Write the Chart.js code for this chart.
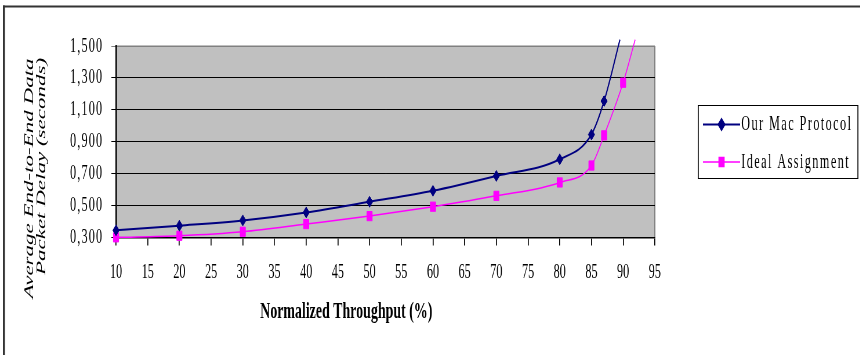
<!DOCTYPE html>
<html>
<head>
<meta charset="utf-8">
<script src="https://cdn.jsdelivr.net/npm/chart.js@4.4.0/dist/chart.umd.min.js"></script>
<style>
  html, body { margin: 0; padding: 0; background: #fff; overflow: hidden; }
  /* chart is drawn wide and squeezed horizontally, like the original */
  #wrap { width: 1483px; height: 355px; transform: scaleX(0.58); transform-origin: 0 0; }
</style>
</head>
<body>
<div id="wrap"><canvas id="chartDelay"></canvas></div>
<script>
const throughputMac = [10, 20, 30, 40, 50, 60, 70, 80, 85, 87, 89.5];
const delayMac = [0.345, 0.374, 0.407, 0.457, 0.524, 0.593, 0.686, 0.79, 0.945, 1.155, 1.54];
const throughputIdeal = [10, 20, 30, 40, 50, 60, 70, 80, 85, 87, 90, 91.9];
const delayIdeal = [0.301, 0.311, 0.336, 0.384, 0.434, 0.493, 0.561, 0.645, 0.751, 0.94, 1.27, 1.54];
const seriesNames = ['Our Mac Protocol', 'Ideal Assignment'];
const xTitle = 'Normalized Throughput (%)';
const yTitle = ['Average End-to-End Data', 'Packet Delay (seconds)'];

const SERIF = "'Liberation Serif', 'Times New Roman', serif";

function toPoints(xs, ys) {
  return xs.map((x, i) => ({ x: x, y: ys[i] }));
}
// last point of each curve only carries the line off the top, no marker
function radii(xs, r) {
  return xs.map((x, i) => (i < xs.length - 1 ? r : 0));
}

const framePlugin = {
  id: 'frame',
  beforeDraw(chart) {
    const ctx = chart.ctx;
    const a = chart.chartArea;
    ctx.save();
    ctx.fillStyle = '#C0C0C0';
    ctx.fillRect(a.left, a.top, a.right - a.left, a.bottom - a.top);
    ctx.fillStyle = '#808080';
    ctx.fillRect(a.left, a.top - 0.5, a.right - a.left, 1);
    ctx.fillRect(a.right - 1, a.top, 2, a.bottom - a.top);
    ctx.restore();

    // wider spacing on the y tick labels
    const ys = chart.scales.y;
    if (!ys._spaced) {
      const orig = ys.drawLabels;
      ys.drawLabels = function (area) {
        this.ctx.save();
        this.ctx.letterSpacing = '2px';
        orig.call(this, area);
        this.ctx.restore();
      };
      ys._spaced = true;
    }
  },
  afterDraw(chart) {
    const ctx = chart.ctx;
    ctx.save();

    // outer frame (top and left edges)
    ctx.fillStyle = '#333';
    ctx.fillRect(5, 5.5, chart.width, 2);
    ctx.fillRect(5, 5.5, 3.5, chart.height);

    // y title, two rotated lines
    ctx.fillStyle = '#000';
    ctx.font = 'italic 23px ' + SERIF;
    ctx.textAlign = 'center';
    ctx.textBaseline = 'alphabetic';
    [[57, 178.5], [78, 166.5]].forEach((p, i) => {
      ctx.save();
      ctx.translate(p[0], p[1]);
      ctx.rotate(-Math.PI / 2);
      ctx.fillText(yTitle[i], 0, 0);
      ctx.restore();
    });

    // x title
    ctx.font = 'bold 24px ' + SERIF;
    ctx.textBaseline = 'middle';
    ctx.fillText(xTitle, 597, 312);

    // legend
    const lx = 1203, ly = 105, lw = 277, lh = 73;
    ctx.fillStyle = '#fff';
    ctx.fillRect(lx, ly, lw, lh);
    ctx.fillStyle = '#000';
    ctx.fillRect(lx, ly, lw, 1);
    ctx.fillRect(lx, ly + lh, lw, 1);
    ctx.fillRect(lx, ly, 1.7, lh);
    ctx.fillRect(lx + lw - 1.7, ly, 1.7, lh);

    const rows = [124.5, 162];
    chart.data.datasets.forEach((ds, i) => {
      const y = rows[i];
      ctx.strokeStyle = ds.borderColor;
      ctx.lineWidth = ds.borderWidth;
      ctx.beginPath();
      ctx.moveTo(1212, y);
      ctx.lineTo(1276, y);
      ctx.stroke();
      ctx.fillStyle = ds.borderColor;
      Chart.helpers.drawPoint(ctx, {
        pointStyle: ds.pointStyle, radius: ds.pointRadius[0], rotation: 0, borderWidth: 1
      }, 1244, y);
      ctx.fillStyle = '#000';
      ctx.font = '21px ' + SERIF;
      ctx.textAlign = 'left';
      ctx.textBaseline = 'middle';
      ctx.letterSpacing = '2.5px';
      ctx.fillText(ds.label, 1278, y);
      ctx.letterSpacing = '0px';
    });
    ctx.restore();
  }
};

const ctx_1 = document.getElementById('chartDelay');

new Chart(ctx_1, {
  type: 'line',
  data: {
    datasets: [{
      label: seriesNames[0],
      data: toPoints(throughputMac, delayMac),
      borderColor: '#000080',
      backgroundColor: '#000080',
      borderWidth: 2,
      pointStyle: 'rectRot',
      pointRadius: radii(throughputMac, 5.5),
      pointBorderWidth: 1,
      cubicInterpolationMode: 'monotone',
      clip: false
    }, {
      label: seriesNames[1],
      data: toPoints(throughputIdeal, delayIdeal),
      borderColor: '#FF00FF',
      backgroundColor: '#FF00FF',
      borderWidth: 1.5,
      pointStyle: 'rect',
      pointRadius: radii(throughputIdeal, 6.5),
      pointBorderWidth: 1,
      cubicInterpolationMode: 'monotone',
      clip: false
    }]
  },
  options: {
    responsive: true,
    maintainAspectRatio: false,
    animation: false,
    layout: { padding: { left: 0, top: 46, right: 354, bottom: 0 } },
    scales: {
      x: {
        type: 'linear',
        min: 10,
        max: 95,
        afterFit(scale) { scale.height = 117.5; },
        ticks: {
          stepSize: 5,
          color: '#000',
          padding: 14,
          maxRotation: 0,
          font: { family: SERIF, size: 21 }
        },
        grid: { drawOnChartArea: false, tickLength: 8, color: '#000', lineWidth: 1.7 },
        border: { color: '#000', width: 1.5 }
      },
      y: {
        min: 0.3,
        max: 1.5,
        afterFit(scale) { scale.width = 200; },
        ticks: {
          stepSize: 0.2,
          color: '#000',
          padding: 14,
          font: { family: SERIF, size: 21 },
          callback: (v) => v.toFixed(3).replace('.', ',')
        },
        grid: {
          tickLength: 8,
          lineWidth: 1,
          color: (c) => (c.tick && c.tick.value >= 1.5 ? '#808080' : '#000')
        },
        border: { color: '#000', width: 2.5 }
      }
    },
    plugins: {
      legend: { display: false },
      tooltip: { enabled: false }
    }
  },
  plugins: [framePlugin]
});
</script>
</body>
</html>
